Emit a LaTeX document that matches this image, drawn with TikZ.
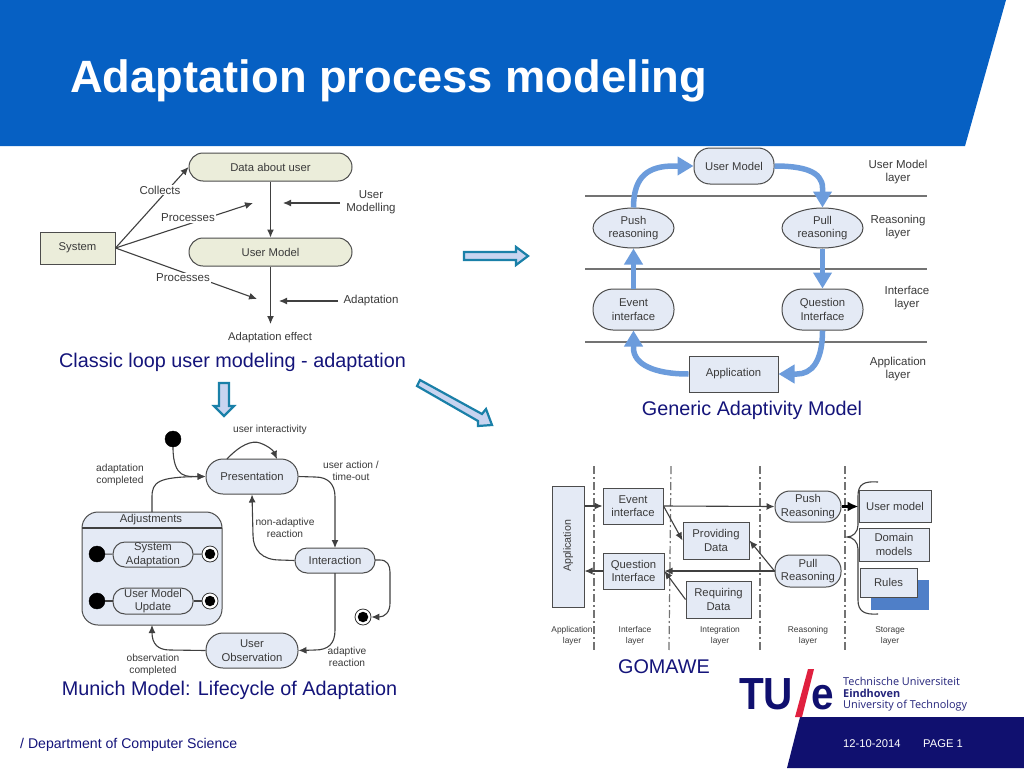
\documentclass[tikz,border=0pt]{standalone}
\usepackage{fontspec}
\setmainfont{Liberation Sans}
\newfontfamily\logofont{Open Sans}
\usetikzlibrary{arrows.meta,shapes.geometric}
\definecolor{tueblue}{HTML}{0660C3}
\definecolor{tuenavy}{HTML}{10106F}
\definecolor{capnavy}{HTML}{14147A}
\definecolor{boxfill}{HTML}{E4EAF5}
\definecolor{olivefill}{HTML}{EBEDDA}
\definecolor{flow}{HTML}{6C9CDC}
\definecolor{arrowteal}{HTML}{1A80A8}
\definecolor{pale}{HTML}{C8D4F0}
\definecolor{inktext}{HTML}{3A3A3A}
\definecolor{rulesblue}{HTML}{4F7FC8}
\definecolor{logored}{HTML}{E0203F}
\tikzset{
  captxt/.style={font=\fontsize{19.8}{23}\selectfont,text=capnavy,inner sep=0pt},
  lbl/.style={font=\fontsize{11.5}{13.5}\selectfont,text=inktext,align=center,inner sep=0pt},
  lbls/.style={font=\fontsize{10.2}{12}\selectfont,text=inktext,align=center,inner sep=0pt},
  lblt/.style={font=\fontsize{8.4}{11}\selectfont,text=inktext,align=center,inner sep=0pt},
  nbox/.style={draw=black!70,line width=1pt,fill=boxfill,font=\fontsize{11.3}{13.5}\selectfont,text=inktext,align=center,inner sep=0pt},
  pill/.style={nbox,rectangle,rounded corners=#1},
  oval/.style={nbox,ellipse},
  flowa/.style={draw=flow,line width=5.5pt,-{Triangle[length=16pt,width=18pt,fill=flow]}},
  thina/.style={draw=black!75,line width=1.1pt,-{Latex[length=8pt,width=7pt]}},
  plainl/.style={draw=black!75,line width=1.1pt},
  layerl/.style={draw=black!55,line width=1.8pt},
  dashl/.style={draw=black!55,line width=1.2pt,dash pattern=on 8pt off 3pt on 2pt off 3pt},
  blk/.style={circle,fill=black,draw=black,minimum size=16pt,inner sep=0pt},
  endo/.style={circle,fill=white,draw=black!80,line width=.8pt,minimum size=16pt,inner sep=0pt},
  endi/.style={circle,fill=black,minimum size=10.5pt,inner sep=0pt},
  barrow/.style={draw=arrowteal,fill=pale,line width=2.2pt,line join=miter},
  logoa/.style={font=\logofont\fontsize{10.9}{12}\selectfont,text=capnavy!85!gray,anchor=west,inner sep=0pt},
  logob/.style={font=\bfseries\fontsize{45}{45}\selectfont,text=tuenavy,inner sep=0pt}
}
\begin{document}
\begin{tikzpicture}[x=1pt,y=-1pt]
\useasboundingbox (0,0) rectangle (1024,768);
\fill[white] (0,0) rectangle (1024,768);
% bands
\fill[tueblue] (0,0) -- (1006,0) -- (965,146) -- (0,146) -- cycle;
\fill[tuenavy] (800,717) -- (1024,717) -- (1024,768) -- (787,768) -- cycle;
\node[anchor=west,inner sep=0pt,text=white,font=\bfseries\fontsize{45.3}{50}\selectfont] (title) at (70,81) {Adaptation process modeling};
% ---------- classic loop
\node[pill=14pt,fill=olivefill,minimum width=163pt,minimum height=28pt] (cdata) at (270.5,167) {Data about user};
\node[pill=14pt,fill=olivefill,minimum width=163pt,minimum height=28pt] (cum) at (270.5,252) {User Model};
\node[nbox,fill=olivefill,rectangle,minimum width=75pt,minimum height=32pt] (csys) at (77.5,248) {System};
\node[lbl,font=\fontsize{11.2}{13.5}\selectfont] (ceff) at (270,338) {Adaptation effect};
\node[lbl] (cum2) at (371,202) {User\\Modelling};
\node[lbl] (cad) at (371,301) {Adaptation};
\coordinate (cp1) at (253,203);
\coordinate (cp2) at (257,299);
\coordinate (cu1) at (283,203);
\coordinate (cu0) at (340,203);
\coordinate (ca1) at (279,301);
\coordinate (ca0) at (338,301);
\coordinate (ceffa) at (270.5,324);
\draw[thina] (cdata) -- (cum);
\draw[thina] (cum) -- (ceffa);
\draw[thina] (csys.east) -- (cdata.west);
\draw[thina] (csys.east) -- (cp1);
\draw[thina] (csys.east) -- (cp2);
\draw[thina] (cu0) -- (cu1);
\draw[thina] (ca0) -- (ca1);
\node[lbl,fill=white,inner sep=1pt] (lcol) at (160,190) {Collects};
\node[lbl,fill=white,inner sep=1pt] (lp1) at (188,218) {Processes};
\node[lbl,fill=white,inner sep=1pt] (lp2) at (183,278) {Processes};
\node[captxt] (capa) at (232.5,362) {Classic loop user modeling - adaptation};
% ---------- generic
\coordinate (gl1a) at (585,196); \coordinate (gl1b) at (927,196);
\coordinate (gl2a) at (585,269); \coordinate (gl2b) at (927,269);
\coordinate (gl3a) at (585,342); \coordinate (gl3b) at (927,342);
\draw[layerl] (gl1a) -- (gl1b);
\draw[layerl] (gl2a) -- (gl2b);
\draw[layerl] (gl3a) -- (gl3b);
\node[pill=16pt,minimum width=80pt,minimum height=36pt] (gum) at (734,166) {User Model};
\node[oval,minimum width=81pt,minimum height=40pt] (gpush) at (633.5,228) {Push\\reasoning};
\node[oval,minimum width=81pt,minimum height=40pt] (gpull) at (822.5,228) {Pull\\reasoning};
\node[pill=20pt,minimum width=81pt,minimum height=41pt] (gev) at (633.5,309.5) {Event\\interface};
\node[pill=20pt,minimum width=81pt,minimum height=41pt] (gq) at (822.5,309.5) {Question\\Interface};
\node[nbox,rectangle,minimum width=89pt,minimum height=36pt] (gapp) at (733.5,374) {Application};
\coordinate (gb1) at (674,166);
\coordinate (gb2) at (822.5,188);
\coordinate (gb3) at (797,374);
\coordinate (gb4) at (633.5,348);
\draw[flowa] (gpush.north) .. controls +(0,-32) and +(-25,0) .. (gb1) -- (gum.west);
\draw[flowa] (gum.east) .. controls +(28,0) and +(0,-17) .. (gb2) -- (gpull.north);
\draw[flowa] (gpull.south) -- (gq.north);
\draw[flowa] (gev.north) -- (gpush.south);
\draw[flowa] (gq.south) .. controls +(0,32) and +(14,0) .. (gb3) -- (gapp.east);
\draw[flowa] (gapp.west) .. controls +(-35,0) and +(0,16) .. (gb4) -- (gev.south);
\node[lbl] (gt1) at (898,172) {User Model\\layer};
\node[lbl] (gt2) at (898,227) {Reasoning\\layer};
\node[lbl] (gt3) at (907,298) {Interface\\layer};
\node[lbl] (gt4) at (898,369) {Application\\layer};
\node[captxt] (capb) at (752,410) {Generic Adaptivity Model};
% ---------- block arrows
\draw[barrow] (464,252) -- (516,252) -- (516,247) -- (528,256) -- (516,265) -- (516,260) -- (464,260) -- cycle;
\draw[barrow] (219,383) -- (229,383) -- (229,406) -- (234,406) -- (224,416) -- (214,406) -- (219,406) -- cycle;
\draw[barrow] (420,380) -- (482,414) -- (486,409) -- (492,425) -- (478,426) -- (478,421) -- (417,386) -- cycle;
% ---------- munich
\node[pill=17pt,minimum width=92pt,minimum height=35pt] (mpres) at (252,476.5) {Presentation};
\node[pill=12pt,minimum width=80pt,minimum height=25pt] (mint) at (335,560.5) {Interaction};
\node[pill=17pt,minimum width=92pt,minimum height=35pt] (mobs) at (252,650.5) {User\\Observation};
\node[pill=16pt,minimum width=140pt,minimum height=113pt] (madj) at (152,568.5) {};
\coordinate (mdl) at (82,528); \coordinate (mdr) at (222,528);
\draw[plainl] (mdl) -- (mdr);
\node[lbl,font=\fontsize{11.3}{12}\selectfont] (madjt) at (151,520) {Adjustments};
\node[pill=12pt,minimum width=80pt,minimum height=25pt] (msys) at (153,554.5) {System\\Adaptation};
\node[pill=12pt,minimum width=80pt,minimum height=26pt] (mupd) at (153,601) {User Model\\Update};
\node[blk] (ms0) at (173,439) {};
\node[blk] (ms1) at (97,554) {};
\node[blk] (ms2) at (97,601) {};
\node[endo] (me1) at (210,554) {}; \node[endi] (me1i) at (210,554) {};
\node[endo] (me2) at (210,601) {}; \node[endi] (me2i) at (210,601) {};
\node[endo] (me3) at (363,617) {}; \node[endi] (me3i) at (363,617) {};
\draw[plainl] (ms1) -- (msys);
\draw[plainl] (msys) -- (me1);
\draw[plainl] (ms2) -- (mupd);
\draw[plainl] (mupd) -- (me2);
\coordinate (madjn) at (152,512);
\coordinate (madjs) at (152,625);
\coordinate (mloopa) at (227,459);
\coordinate (mloopb) at (277,459);
\coordinate (mintn) at (335,548);
\coordinate (minte) at (375,560);
\coordinate (mints) at (335,573);
\draw[thina] (ms0.south) .. controls +(0,32) and +(-18,0) .. (mpres.west);
\draw[thina] (madjn) -- (152,497) .. controls (152,482) and (158,477) .. (mpres.west);
\draw[thina] (mloopa) .. controls (240,445) and (252,440) .. (260,443) .. controls (268,446) and (273,450) .. (mloopb);
\draw[thina] (mpres.east) -- (315,477) .. controls (328,477) and (335,484) .. (335,497) -- (mintn);
\draw[thina] (mint.west) -- (280,560) .. controls (262,560) and (253,550) .. (253,535) -- (mpres.south);
\draw[thina] (mints) -- (335,630) .. controls (335,644) and (328,650) .. (315,650) -- (mobs.east);
\draw[thina] (minte) -- (380,560) .. controls (387,560) and (390,565) .. (390,572) -- (390,603) .. controls (390,612) and (385,617) .. (me3.east);
\draw[thina] (mobs.west) -- (170,650) .. controls (158,650) and (152,644) .. (madjs);
\node[lbls] (mt1) at (270,430) {user interactivity};
\node[lbls] (mt2) at (120,475) {adaptation\\completed};
\node[lbls] (mt3) at (351,471) {user action /\\time-out};
\node[lbls] (mt4) at (285,527.5) {non-adaptive\\reaction};
\node[lbls] (mt5) at (347,657) {adaptive\\reaction};
\node[lbls] (mt6) at (153,664.5) {observation\\completed};
\node[captxt] (capc) at (229.5,690) {Munich Model: Lifecycle of Adaptation};
% ---------- gomawe
\coordinate (gd1a) at (594,466); \coordinate (gd1b) at (594,650);
\coordinate (gd2a) at (671,466); \coordinate (gd2b) at (669,650);
\coordinate (gd3a) at (760,466); \coordinate (gd3b) at (760,650);
\coordinate (gd4a) at (845,466); \coordinate (gd4b) at (845,650);
\draw[dashl] (gd1a) -- (gd1b);
\draw[dashl] (gd2a) -- (gd2b);
\draw[dashl] (gd3a) -- (gd3b);
\draw[dashl] (gd4a) -- (gd4b);
\fill[rulesblue] (871,580) rectangle (929,610);
\node[nbox,rectangle,minimum width=32pt,minimum height=121pt] (oapp) at (568,546.5) {};
\node[lbl,rotate=90,font=\fontsize{10.6}{12}\selectfont] (oappt) at (568,546) {Application};
\node[nbox,rectangle,minimum width=60pt,minimum height=36pt] (oev) at (633,506) {Event\\interface};
\node[nbox,rectangle,minimum width=61pt,minimum height=36pt] (oq) at (633.5,571) {Question\\Interface};
\node[nbox,rectangle,minimum width=66pt,minimum height=37pt] (oprov) at (716,540.5) {Providing\\Data};
\node[nbox,rectangle,minimum width=65pt,minimum height=37pt] (oreq) at (718.5,599.5) {Requiring\\Data};
\node[pill=15pt,minimum width=66pt,minimum height=31pt] (opush) at (808,506.5) {Push\\Reasoning};
\node[pill=15pt,minimum width=66pt,minimum height=32pt] (opull) at (808,571) {Pull\\Reasoning};
\node[nbox,rectangle,minimum width=72pt,minimum height=32pt] (ouser) at (895,506) {User model};
\node[nbox,rectangle,minimum width=70pt,minimum height=33pt] (odom) at (894,544.5) {Domain\\models};
\node[nbox,rectangle,minimum width=57pt,minimum height=29pt] (orul) at (888.5,582.5) {Rules};
\coordinate (obr1) at (878,482);
\coordinate (obr2) at (847,537);
\coordinate (obr3) at (878,614);
\draw[plainl] (obr1) .. controls (864,481) and (858,484) .. (858,496) -- (858,525) .. controls (858,532) and (853,537) .. (obr2) .. controls (853,537) and (858,542) .. (858,549) -- (858,600) .. controls (858,611) and (864,615) .. (obr3);
\draw[thina] (oapp.east |- oev) -- (oev.west);
\draw[thina] (oev.east) -- (opush.west);
\draw[draw=black,line width=2.4pt,-{Latex[length=11pt,width=10pt]}] (opush.east) -- (ouser.west |- opush);
\draw[thina] (oev.east) -- (oprov.west);
\draw[thina] (opull.west) -- (oprov.east);
\draw[thina] (opull.west) -- (oq.east);
\draw[thina] (oq.west) -- (oapp.east |- oq);
\draw[thina] (oreq.west) -- (oq.east);
\node[lblt] (ot1) at (572,635.5) {Application\\layer};
\node[lblt] (ot2) at (635,635.5) {Interface\\layer};
\node[lblt] (ot3) at (720,635.5) {Integration\\layer};
\node[lblt] (ot4) at (808,635.5) {Reasoning\\layer};
\node[lblt] (ot5) at (890,635.5) {Storage\\layer};
\node[captxt] (capd) at (664,667) {GOMAWE};
% ---------- logo
\node[logob,anchor=base west,xscale=.9] (logotu) at (739,709) {TU};
\node[logob,anchor=base west,xscale=.9] (logoe) at (811,709) {e};
\fill[logored] (808,669) -- (814,669) -- (802,717) -- (795,717) -- cycle;
\node[logoa] (lg1) at (843,681) {Technische Universiteit};
\node[logoa,font=\logofont\bfseries\fontsize{10.9}{12}\selectfont] (lg2) at (843,693.5) {Eindhoven};
\node[logoa] (lg3) at (843,706) {University of Technology};
% ---------- footer
\node[anchor=west,inner sep=0pt,text=capnavy,font=\fontsize{14.1}{16}\selectfont] (ft1) at (20,745) {/ Department of Computer Science};
\node[anchor=west,inner sep=0pt,text=white,font=\fontsize{11.2}{13}\selectfont] (ft2) at (843,744) {12-10-2014};
\node[anchor=west,inner sep=0pt,text=white,font=\fontsize{11.2}{13}\selectfont] (ft3) at (923,744) {PAGE 1};
\end{tikzpicture}
\end{document}
